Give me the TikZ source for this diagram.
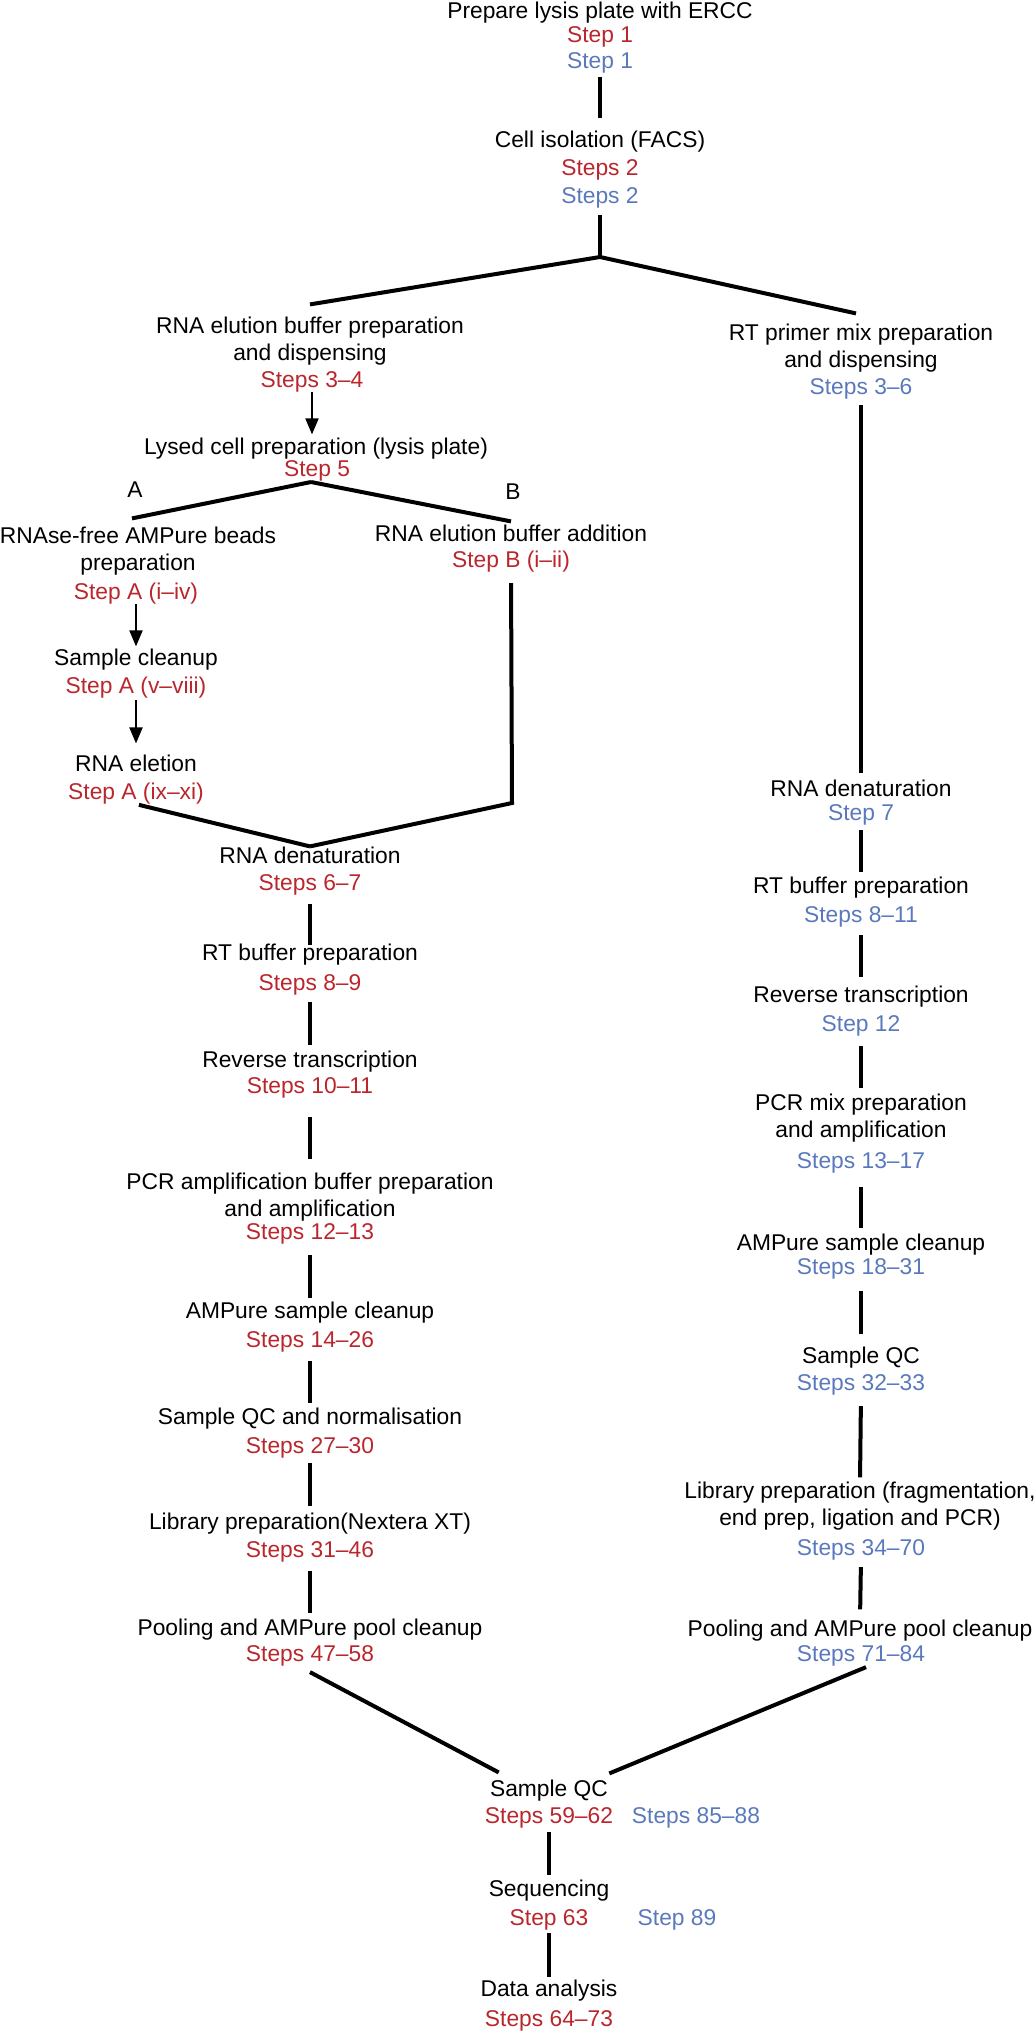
\documentclass[tikz,border=0pt]{standalone}
\usepackage{fontspec}
\setmainfont{Liberation Sans}
\usetikzlibrary{arrows.meta}
\definecolor{stepred}{RGB}{185,38,44}
\definecolor{stepblue}{RGB}{90,121,189}

\begin{document}
\begin{tikzpicture}[x=0.5pt, y=-0.5pt,
		title/.style={anchor=north, align=center},
		redstep/.style={anchor=base, text=stepred},
		bluestep/.style={anchor=base, text=stepblue},
		conn/.style={line width=2pt},
		arr/.style={line width=1pt, -{Triangle[width=6.5pt,length=8pt]}}]
	\useasboundingbox (0,0) rectangle (1035,2031);

	\begin{scope}[every node/.append style={inner sep=0pt, font=\fontsize{11.4pt}{13.6pt}\selectfont}]
		% common start
		\node[title] (prep) at (600, 2) {Prepare lysis plate with ERCC};
		\node[redstep] (s1r) at (600, 42.5) {Step 1};
		\node[bluestep] (s1b) at (600, 68) {Step 1};
		\node[title] (cell) at (600, 130.4) {Cell isolation (FACS)};
		\node[redstep] (s2r) at (600, 175) {Steps 2};
		\node[bluestep] (s2b) at (600, 203) {Steps 2};

		% left branch
		\node[title] (rnab) at (310, 316.4) {RNA elution buffer preparation\\and dispensing};
		\node[redstep] (s34) at (312, 387) {Steps 3--4};
		\node[title] (lysed) at (316, 437.4) {Lysed cell preparation (lysis plate)};
		\node[redstep] (s5) at (317, 476) {Step 5};
		\node[anchor=base] (la) at (135, 497) {A};
		\node[anchor=base] (lb) at (513, 499) {B};
		\node[title] (ampb) at (138, 526.4) {RNAse-free AMPure beads\\preparation};
		\node[redstep] (sa1) at (136, 599) {Step A (i--iv)};
		\node[title] (clean) at (136, 648.4) {Sample cleanup};
		\node[redstep] (sa2) at (136, 693) {Step A (v--viii)};
		\node[title] (elut) at (136, 754.4) {RNA eletion};
		\node[redstep] (sa3) at (136, 799) {Step A (ix--xi)};
		\node[title] (elb) at (511, 524.4) {RNA elution buffer addition};
		\node[redstep] (sb) at (511, 567) {Step B (i--ii)};
		\node[title] (rnad) at (310, 846.4) {RNA denaturation};
		\node[redstep] (s67) at (310, 890) {Steps 6--7};
		\node[title] (rtb) at (310, 943.4) {RT buffer preparation};
		\node[redstep] (s89) at (310, 990) {Steps 8--9};
		\node[title] (rev) at (310, 1050.4) {Reverse transcription};
		\node[redstep] (s1011) at (310, 1093) {Steps 10--11};
		\node[title] (pcr) at (310, 1172.4) {PCR amplification buffer preparation\\and amplification};
		\node[redstep] (s1213) at (310, 1239) {Steps 12--13};
		\node[title] (amp) at (310, 1301.4) {AMPure sample cleanup};
		\node[redstep] (s1426) at (310, 1347) {Steps 14--26};
		\node[title] (qcn) at (310, 1407.4) {Sample QC and normalisation};
		\node[redstep] (s2730) at (310, 1453) {Steps 27--30};
		\node[title] (lib) at (310, 1512.4) {Library preparation(Nextera XT)};
		\node[redstep] (s3146) at (310, 1557) {Steps 31--46};
		\node[title] (pool) at (310, 1618.4) {Pooling and AMPure pool cleanup};
		\node[redstep] (s4758) at (310, 1661) {Steps 47--58};

		% right branch
		\node[title] (rtp) at (861, 323.4) {RT primer mix preparation\\and dispensing};
		\node[bluestep] (r36) at (861, 394) {Steps 3--6};
		\node[title] (rrnad) at (861, 779.4) {RNA denaturation};
		\node[bluestep] (r7) at (861, 820) {Step 7};
		\node[title] (rrtb) at (861, 876.4) {RT buffer preparation};
		\node[bluestep] (r811) at (861, 922) {Steps 8--11};
		\node[title] (rrev) at (861, 985.4) {Reverse transcription};
		\node[bluestep] (r12) at (861, 1031) {Step 12};
		\node[title] (rpcr) at (861, 1093.4) {PCR mix preparation\\and amplification};
		\node[bluestep] (r1317) at (861, 1168) {Steps 13--17};
		\node[title] (ramp) at (861, 1233.4) {AMPure sample cleanup};
		\node[bluestep] (r1831) at (861, 1274) {Steps 18--31};
		\node[title] (rqc) at (861, 1346.4) {Sample QC};
		\node[bluestep] (r3233) at (861, 1390) {Steps 32--33};
		\node[title] (rlib) at (860, 1481.4) {Library preparation (fragmentation,\\end prep, ligation and PCR)};
		\node[bluestep] (r3470) at (861, 1555) {Steps 34--70};
		\node[title] (rpool) at (860, 1619.4) {Pooling and AMPure pool cleanup};
		\node[bluestep] (r7184) at (861, 1661) {Steps 71--84};

		% common end
		\node[title] (qc) at (549, 1779.4) {Sample QC};
		\node[redstep] (s5962) at (549, 1823) {Steps 59--62};
		\node[bluestep] (r8588) at (696, 1823) {Steps 85--88};
		\node[title] (seq) at (549, 1879.4) {Sequencing};
		\node[redstep] (s63) at (549, 1925) {Step 63};
		\node[bluestep] (r89) at (677, 1925) {Step 89};
		\node[title] (data) at (549, 1979.4) {Data analysis};
		\node[redstep] (s6473) at (549, 2026) {Steps 64--73};
	\end{scope}

	\coordinate (fork1) at (600, 257);
	\coordinate (fork2) at (311, 482);
	\coordinate (bend) at (512, 803);

	\draw[conn, shorten <=2pt, shorten >=6pt] (s1b.south) -- (cell.north);
	\draw[conn, shorten <=3.5pt] (s2b.south) -- (fork1);
	\draw[conn] (fork1) -- ([yshift=6pt]rnab.north) (fork1) -- ([shift={(-2.5pt,5pt)}]rtp.north);

	% left branch
	\draw[arr, shorten >=1.5pt] (s34.south) -- (s34.south |- lysed.north);
	\draw[conn] (fork2) -- ([shift={(-3pt,4pt)}]ampb.north) (fork2) -- ([yshift=1.5pt]elb.north);
	\draw[arr, shorten >=1pt] (sa1.south) -- (clean.north);
	\draw[arr, shorten <=1pt, shorten >=5.5pt] (sa2.south) -- (elut.north);
	\draw[conn, shorten <=1.5pt] (sa3.south) -- (rnad.north);
	\draw[conn, shorten <=5.5pt] (sb.south) -- (bend) -- (rnad.north);
	\draw[conn, shorten <=4.5pt, shorten >=-1pt] (s67.south) -- (rtb.north);
	\draw[conn, shorten <=3.5pt, shorten >=2.5pt] (s89.south) -- (rev.north);
	\draw[conn, shorten <=9.5pt, shorten >=6.5pt] (s1011.south) -- (pcr.north);
	\draw[conn, shorten <=5.5pt, shorten >=1.5pt] (s1213.south) -- (amp.north);
	\draw[conn, shorten <=4.5pt, shorten >=2pt] (s1426.south) -- (qcn.north);
	\draw[conn, shorten <=2.5pt, shorten >=3pt] (s2730.south) -- (lib.north);
	\draw[conn, shorten <=4.5pt, shorten >=2.5pt] (s3146.south) -- (pool.north);

	% right branch
	\draw[conn, shorten <=3pt, shorten >=3pt] (r36.south) -- (rrnad.north);
	\draw[conn, shorten <=2.5pt, shorten >=2pt] (r7.south) -- (rrtb.north);
	\draw[conn, shorten <=4pt, shorten >=4pt] (r811.south) -- (rrev.north);
	\draw[conn, shorten <=5pt, shorten >=2.5pt] (r12.south) -- (rpcr.north);
	\draw[conn, shorten <=7pt, shorten >=2.5pt] (r1317.south) -- (ramp.north);
	\draw[conn, shorten <=6pt, shorten >=6pt] (r1831.south) -- (rqc.north);
	\draw[conn, shorten <=5.5pt, shorten >=2pt] (r3233.south) -- (rlib.north);
	\draw[conn, shorten <=3.5pt, shorten >=5pt] (r3470.south) -- (rpool.north);

	% both branches join
	\draw[conn] ([yshift=-3pt]s4758.south) -- ([shift={(4.5pt,3.5pt)}]qc.north west);
	\draw[conn] ([shift={(2.5pt,-0.5pt)}]r7184.south) -- ([shift={(0.5pt,3pt)}]qc.north east);
	\draw[conn, shorten <=2pt, shorten >=2pt] (s5962.south) -- (seq.north);
	\draw[conn, shorten <=1.5pt, shorten >=1pt] (s63.south) -- (data.north);
\end{tikzpicture}
\end{document}
